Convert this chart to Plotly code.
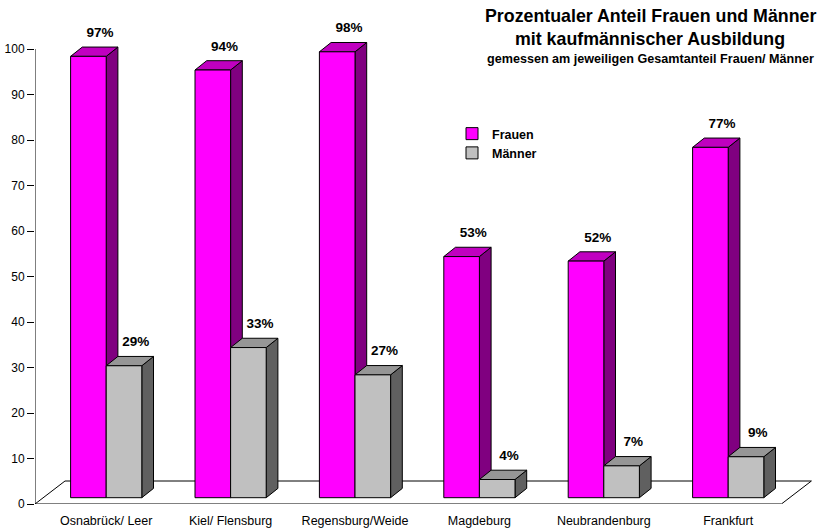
import plotly.graph_objects as go

# ---------------- data ----------------
categories = ["Osnabrück/ Leer", "Kiel/ Flensburg", "Regensburg/Weide",
              "Magdeburg", "Neubrandenburg", "Frankfurt"]
frauen = [97, 94, 98, 53, 52, 77]
maenner = [29, 33, 27, 4, 7, 9]
series_names = ["Frauen", "Männer"]

title_lines = ["Prozentualer Anteil Frauen und Männer",
               "mit kaufmännischer Ausbildung",
               "gemessen am jeweiligen Gesamtanteil Frauen/ Männer"]

# ---------------- layout / style constants ----------------
W, H = 827, 532
L, R, T, B = 35, 5, 20, 28
PX_X = 124.4      # pixels per category
PX_Y = 4.55       # pixels per value unit
FONT = "Arial, 'Liberation Sans', sans-serif"

xmax = (W - L - R) / PX_X
ymax = (H - T - B) / PX_Y

# 3D depth offsets (pixels -> data units)
front_dx, front_dy = 9.0 / PX_X, 6.3 / PX_Y
bar_dx, bar_dy = 11.7 / PX_X, 9.3 / PX_Y
floor_dx, floor_dy = 30.0 / PX_X, 23.0 / PX_Y
bw = 35.6 / PX_X

colors = {
    "Frauen": dict(front="#FF00FF", side="#800080", top="#C000C0"),
    "Männer": dict(front="#C0C0C0", side="#606060", top="#969696"),
}

n = len(categories)
gx = [k + 0.5 + front_dx for k in range(n)]

fig = go.Figure()
shapes = []

# floor (below everything)
floor_path = (f"M 0,0 L {n},0 L {n + floor_dx},{floor_dy} "
              f"L {floor_dx},{floor_dy} Z")
shapes.append(dict(type="path", path=floor_path, xref="x", yref="y",
                   line=dict(color="black", width=1), fillcolor="rgba(0,0,0,0)",
                   layer="below"))
# y axis line 0..100
shapes.append(dict(type="line", x0=0, x1=0, y0=0, y1=100, xref="x", yref="y",
                   line=dict(color="black", width=1), layer="below"))


def faces(x0, x1, v):
    yb = front_dy
    yt = front_dy + v
    side = (f"M {x1},{yb} L {x1},{yt} L {x1 + bar_dx},{yt + bar_dy} "
            f"L {x1 + bar_dx},{yb + bar_dy} Z")
    top = (f"M {x0},{yt} L {x1},{yt} L {x1 + bar_dx},{yt + bar_dy} "
           f"L {x0 + bar_dx},{yt + bar_dy} Z")
    return side, top


label_x, label_y, label_t = [], [], []
for name, vals, off in [("Frauen", frauen, -bw), ("Männer", maenner, 0.0)]:
    c = colors[name]
    for k, v in enumerate(vals):
        x0 = gx[k] + off
        x1 = x0 + bw
        side, top = faces(x0, x1, v)
        shapes.append(dict(type="path", path=side, xref="x", yref="y",
                           fillcolor=c["side"], line=dict(color="black", width=1),
                           layer="below"))
        shapes.append(dict(type="path", path=top, xref="x", yref="y",
                           fillcolor=c["top"], line=dict(color="black", width=1),
                           layer="below"))
        label_x.append((x0 + x1) / 2 + bar_dx)
        label_y.append(front_dy + v + bar_dy + 13.5 / PX_Y)
        label_t.append(f"<b>{v}%</b>")

    fig.add_trace(go.Bar(
        x=gx, y=vals, base=front_dy, width=bw, offset=off,
        name=f"<b>{name}</b>",
        marker=dict(color=c["front"], line=dict(color="black", width=1)),
        hoverinfo="skip",
    ))

fig.add_trace(go.Scatter(
    x=label_x, y=label_y, mode="text", text=label_t,
    textposition="middle center", showlegend=False, cliponaxis=False,
    textfont=dict(family=FONT, size=13.5, color="black"), hoverinfo="skip",
))

# title
title_px_x = 650.4
title_specs = [(title_lines[0], 17.8, 16.0), (title_lines[1], 17.8, 39.0),
               (title_lines[2], 12.6, 59.5)]
annotations = []
for txt, sz, ypx in title_specs:
    annotations.append(dict(
        text=f"<b>{txt}</b>", xref="paper", yref="paper",
        x=(title_px_x - L) / (W - L - R), y=(H - B - ypx) / (H - T - B),
        xanchor="center", yanchor="middle", showarrow=False,
        font=dict(family=FONT, size=sz, color="black"),
    ))

fig.update_layout(
    width=W, height=H,
    margin=dict(l=L, r=R, t=T, b=B, pad=0, autoexpand=False),
    paper_bgcolor="white", plot_bgcolor="white",
    barmode="overlay",
    shapes=shapes,
    annotations=annotations,
    font=dict(family=FONT, color="black"),
    showlegend=True,
    legend=dict(
        x=(452 - L) / (W - L - R), y=(H - B - 119) / (H - T - B),
        xanchor="left", yanchor="top",
        font=dict(family=FONT, size=12.5, color="black"),
        bgcolor="rgba(0,0,0,0)", tracegroupgap=0, itemwidth=30,
    ),
    xaxis=dict(
        range=[0, xmax], showgrid=False, zeroline=False, showline=False,
        tickmode="array", tickvals=gx, ticktext=categories, ticks="",
        tickfont=dict(family=FONT, size=12.5, color="black"),
        ticklabelstandoff=7, fixedrange=True, automargin=False,
    ),
    yaxis=dict(
        range=[0, ymax], showgrid=False, zeroline=False, showline=False,
        tickmode="array", tickvals=list(range(0, 101, 10)),
        ticks="outside", ticklen=7, tickcolor="black", tickwidth=1,
        tickfont=dict(family=FONT, size=12, color="black"),
        fixedrange=True, automargin=False,
    ),
)

fig.write_html("out.html")
